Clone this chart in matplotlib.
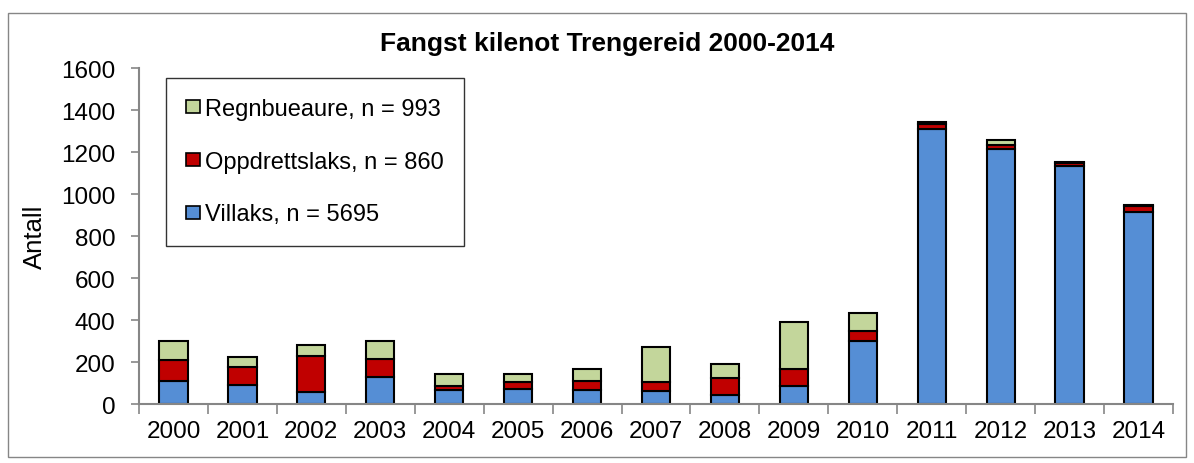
import matplotlib
matplotlib.use("Agg")
import matplotlib.pyplot as plt
from matplotlib.patches import Rectangle
import numpy as np

years = ["2000", "2001", "2002", "2003", "2004", "2005", "2006", "2007",
         "2008", "2009", "2010", "2011", "2012", "2013", "2014"]
villaks = [113, 92, 60, 132, 70, 73, 67, 63, 46, 87, 302, 1312, 1214, 1133, 918]
oppdrettslaks = [97, 87, 168, 84, 16, 33, 43, 41, 80, 81, 45, 24, 23, 16, 26]
regnbueaure = [93, 48, 53, 86, 58, 36, 56, 167, 66, 223, 86, 6, 22, 4, 5]
labels = ["Villaks, n = 5695", "Oppdrettslaks, n = 860", "Regnbueaure, n = 993"]
title = "Fangst kilenot Trengereid 2000-2014"
ylabel = "Antall"

plt.rcParams['font.family'] = ['Liberation Sans', 'DejaVu Sans']

fig = plt.figure(figsize=(11.94, 4.64), dpi=100)
fig.patches.append(Rectangle((8 / 1194, 1 - 458 / 464), 1178 / 1194, 444 / 464,
                             transform=fig.transFigure, fill=False,
                             edgecolor='#868686', linewidth=1.0))
ax = fig.add_axes([139 / 1194, (464 - 405.3) / 464, (1173 - 139) / 1194, 336 / 464])

x = np.arange(len(years))
w = 0.41
v = np.array(villaks)
o = np.array(oppdrettslaks)
r = np.array(regnbueaure)
ek = dict(edgecolor='black', linewidth=1.5, width=w)
b1 = ax.bar(x, v, color='#558ED5', label=labels[0], **ek)
b2 = ax.bar(x, o, bottom=v, color='#C00000', label=labels[1], **ek)
b3 = ax.bar(x, r, bottom=v + o, color='#C3D69B', label=labels[2], **ek)

fs = 17.5
ax.set_xlim(-0.5, len(years) - 0.5)
ax.set_ylim(0, 1600)
ax.set_yticks(np.arange(0, 1601, 200))
ax.set_xticks(x)
ax.set_xticklabels(years)
ax.set_xticks(np.arange(-0.5, len(years), 1), minor=True)
ax.tick_params(axis='x', which='major', length=0, pad=11, labelsize=fs)
ax.tick_params(axis='x', which='minor', length=7, width=1.2, color='#868686')
ax.tick_params(axis='y', which='major', length=6, width=1.2, color='#868686',
               pad=11, labelsize=fs)
for s in ['top', 'right']:
    ax.spines[s].set_visible(False)
for s in ['left', 'bottom']:
    ax.spines[s].set_color('#868686')
    ax.spines[s].set_linewidth(1.5)

ax.set_ylabel(ylabel, fontsize=18.5, labelpad=10)
fig.text(607 / 1194, 1 - 44 / 464, title, ha='center', va='center',
         fontsize=19, fontweight='bold')

handles = [b3, b2, b1]
leg = ax.legend(handles, [labels[2], labels[1], labels[0]],
                loc='upper left', bbox_to_anchor=(166 / 1194, 1 - 79 / 464),
                bbox_transform=fig.transFigure, fontsize=17,
                frameon=True, fancybox=False, edgecolor='black',
                handlelength=0.6, handleheight=0.47, handletextpad=0.2,
                labelspacing=1.3, borderpad=0.85, borderaxespad=0)
leg.get_frame().set_linewidth(1.0)
for h in leg.legend_handles:
    h.set_linewidth(1.2)

fig.savefig("out.png", dpi=100)
